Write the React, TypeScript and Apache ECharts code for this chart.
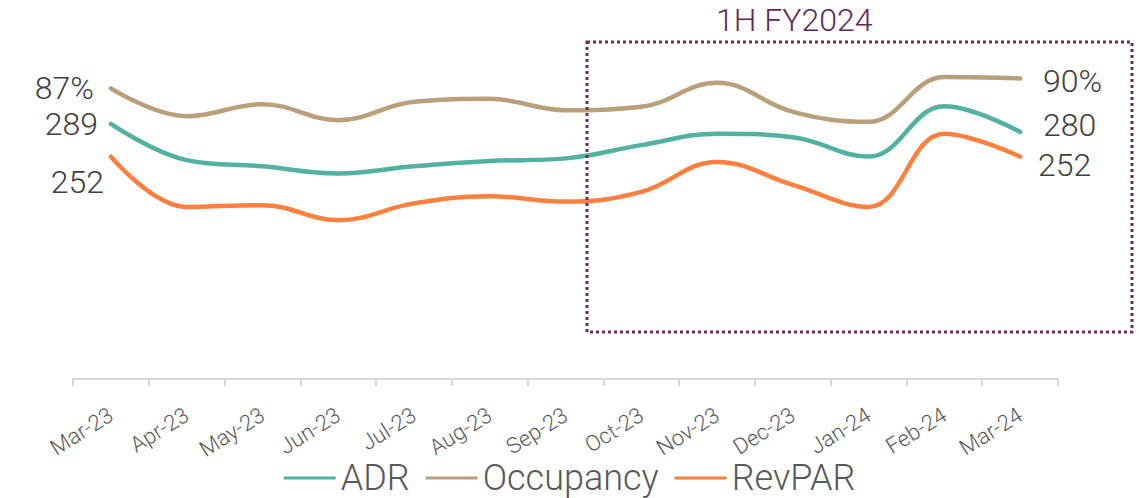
import React, { useEffect, useRef } from "react";
import * as echarts from "echarts";

const months = ["Mar-23", "Apr-23", "May-23", "Jun-23", "Jul-23", "Aug-23", "Sep-23", "Oct-23", "Nov-23", "Dec-23", "Jan-24", "Feb-24", "Mar-24"];
const adr = [289, 248, 241, 233, 241, 247, 250, 265, 278, 274, 252, 309, 280];
const occupancy = [87, 78.7, 82.3, 77.5, 83.0, 83.9, 80.5, 81.5, 88.7, 80.0, 77.0, 90.4, 90];
const revpar = [252, 195, 197, 180, 199, 207, 201, 212, 246, 220, 195, 278, 252];
const periodLabel = "1H FY2024";

const FONT = "Roboto, 'Open Sans', sans-serif";
const LABEL_COLOR = "#404040";

function withEndLabels(
  values: number[],
  fmt: (v: number) => string,
  left: { distance: number; offsetY: number },
  right: { distance: number; offsetY: number }
) {
  const last = values.length - 1;
  return values.map((v, i) => {
    if (i === 0 || i === last) {
      const cfg = i === 0 ? left : right;
      return {
        value: v,
        symbol: "circle",
        symbolSize: 0,
        label: {
          show: true,
          position: i === 0 ? "left" : "right",
          distance: cfg.distance,
          offset: [0, cfg.offsetY],
          formatter: () => fmt(v),
          fontFamily: FONT,
          fontWeight: 300,
          fontSize: 32,
          color: LABEL_COLOR,
        },
      };
    }
    return { value: v, symbolSize: 0 };
  });
}

export default function App() {
  const ref = useRef<HTMLDivElement>(null);
  useEffect(() => {
    if (!ref.current) return;
    const chart = echarts.init(ref.current, undefined, { renderer: "svg" });
    const lineCommon = {
      type: "line",
      smooth: 0.4,
      showSymbol: true,
      symbol: "circle",
      symbolSize: 0,
      lineStyle: { width: 4.5, cap: "round" },
      emphasis: { disabled: true },
    };
    chart.setOption({
      animation: false,
      backgroundColor: "#ffffff",
      grid: { left: 73, right: 81, top: 26, bottom: 119, containLabel: false },
      legend: {
        bottom: -3,
        left: "center",
        icon: "rect",
        itemWidth: 52,
        itemHeight: 3,
        itemGap: 16,
        textStyle: { fontFamily: FONT, fontWeight: 300, fontSize: 36, color: "#595959" },
        data: ["ADR", "Occupancy", "RevPAR"],
      },
      xAxis: {
        type: "category",
        data: months,
        boundaryGap: true,
        axisLine: { lineStyle: { color: "#d9d9d9", width: 2 } },
        axisTick: { show: true, length: 7, lineStyle: { color: "#d9d9d9", width: 2 } },
        axisLabel: {
          rotate: 32,
          margin: 34,
          fontFamily: FONT,
          fontWeight: 300,
          fontSize: 22,
          color: "#595959",
          interval: 0,
        },
      },
      yAxis: [
        { type: "value", min: 0, max: 400, show: false },
        { type: "value", min: 0, max: 105.7, show: false },
      ],
      series: [
        {
          ...lineCommon,
          name: "ADR",
          yAxisIndex: 0,
          color: "#52b2a2",
          z: 3,
          data: withEndLabels(adr, (v) => String(v), { distance: 13, offsetY: 0 }, { distance: 23, offsetY: -7 }),
        },
        {
          ...lineCommon,
          name: "Occupancy",
          yAxisIndex: 1,
          color: "#b9a07a",
          z: 2,
          data: withEndLabels(occupancy, (v) => Math.round(v) + "%", { distance: 17, offsetY: 0 }, { distance: 23, offsetY: 3 }),
        },
        {
          ...lineCommon,
          name: "RevPAR",
          yAxisIndex: 0,
          color: "#ff7f3f",
          z: 4,
          data: withEndLabels(revpar, (v) => String(v), { distance: 7, offsetY: 25 }, { distance: 18, offsetY: 8 }),
        },
      ],
      graphic: [
        {
          type: "rect",
          shape: { x: 587, y: 42, width: 545, height: 290 },
          style: { fill: "none", stroke: "#6b2d62", lineWidth: 3, lineDash: [3, 3] },
          z: 10,
        },
        {
          type: "text",
          x: 716,
          y: 4,
          style: {
            text: periodLabel,
            fontFamily: FONT,
            fontWeight: 300,
            fontSize: 32,
            fill: "#64285f",
          },
          z: 10,
        },
      ],
    });
    return () => chart.dispose();
  }, []);
  return (
    <div
      ref={ref}
      style={{ position: "fixed", left: 0, top: 0, width: 1139, height: 498, background: "#fff" }}
    />
  );
}
